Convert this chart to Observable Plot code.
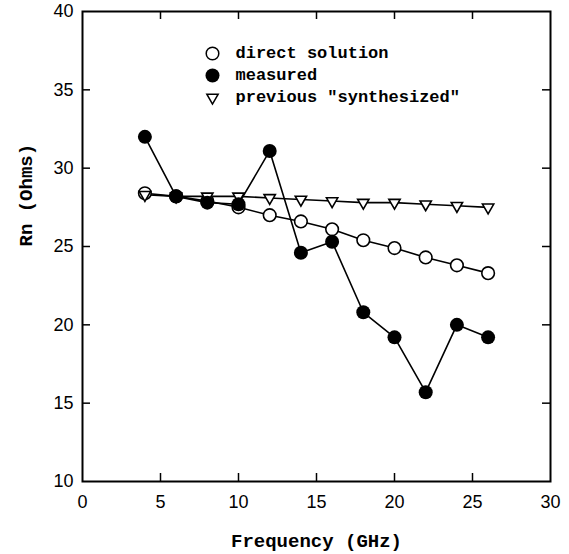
<!DOCTYPE html>
<html>
<head>
<meta charset="utf-8">
<script src="https://cdn.jsdelivr.net/npm/d3@7"></script>
<script src="https://cdn.jsdelivr.net/npm/@observablehq/plot@0.6"></script>
<style>
  html, body { margin: 0; padding: 0; background: white; }
</style>
</head>
<body>
<div id="chart"></div>
<script>
// Noise resistance Rn versus frequency
const freq = [4, 6, 8, 10, 12, 14, 16, 18, 20, 22, 24, 26];
const direct = [28.4, 28.2, 27.9, 27.5, 27.0, 26.6, 26.1, 25.4, 24.9, 24.3, 23.8, 23.3];
const measured = [32.0, 28.2, 27.8, 27.7, 31.1, 24.6, 25.3, 20.8, 19.2, 15.7, 20.0, 19.2];
const synthesized = [28.3, 28.2, 28.2, 28.2, 28.1, 28.0, 27.9, 27.8, 27.8, 27.7, 27.6, 27.5];

const xTicks = [0, 5, 10, 15, 20, 25, 30];
const yTicks = [10, 15, 20, 25, 30, 35, 40];
const xInner = [5, 10, 15, 20, 25];
const yInner = [15, 20, 25, 30, 35];
const legendLabels = ["direct solution", "measured", "previous \"synthesized\""];

const rows = vals => freq.map((f, i) => ({f, v: vals[i]}));

const W = 569, H = 554;
const mL = 82, mR = 19, mT = 11, mB = 73;
const innerW = W - mL - mR, innerH = H - mT - mB;
const tickLen = 8;
const mono = "'Liberation Mono', 'DejaVu Sans Mono', monospace";
const sans = "'Liberation Sans', Arial, sans-serif";

const legendRow = (label, i, dotOpts) => [
  Plot.dot([label], {frameAnchor: "top-left", dx: 130, dy: 42 + i * 22, stroke: "black", strokeWidth: 1.5, ...dotOpts}),
  Plot.text([label], {frameAnchor: "top-left", dx: 153, dy: 41 + i * 22, textAnchor: "start", lineAnchor: "middle",
    fontFamily: mono, fontWeight: "bold", fontSize: 17, fill: "black"})
];

const chart = Plot.plot({
  width: W,
  height: H,
  marginLeft: mL,
  marginRight: mR,
  marginTop: mT,
  marginBottom: mB,
  style: {background: "white", color: "black", fontFamily: sans, fontSize: "18px"},
  x: {domain: [0, 30]},
  y: {domain: [10, 40]},
  marks: [
    Plot.axisX(xTicks, {tickSize: 0, tickPadding: 14, fontSize: 18, fontFamily: sans, label: null}),
    Plot.axisY(yTicks, {tickSize: 0, tickPadding: 9, fontSize: 18, fontFamily: sans, label: null}),
    // inward tick marks on all four sides
    Plot.tickX(xInner, {x: d => d, insetTop: innerH - tickLen, stroke: "black", strokeWidth: 1.5}),
    Plot.tickX(xInner, {x: d => d, insetBottom: innerH - tickLen, stroke: "black", strokeWidth: 1.5}),
    Plot.tickY(yInner, {y: d => d, insetRight: innerW - tickLen, stroke: "black", strokeWidth: 1.5}),
    Plot.tickY(yInner, {y: d => d, insetLeft: innerW - tickLen, stroke: "black", strokeWidth: 1.5}),
    Plot.frame({stroke: "black", strokeWidth: 2}),
    // series
    Plot.line(rows(direct), {x: "f", y: "v", stroke: "black", strokeWidth: 1.6}),
    Plot.line(rows(synthesized), {x: "f", y: "v", stroke: "black", strokeWidth: 1.6}),
    Plot.line(rows(measured), {x: "f", y: "v", stroke: "black", strokeWidth: 1.6}),
    Plot.dot(rows(direct), {x: "f", y: "v", r: 6.3, fill: "white", stroke: "black", strokeWidth: 1.6}),
    Plot.dot(rows(synthesized), {x: "f", y: "v", symbol: "triangle", rotate: 180, r: 4.2, fill: "white", stroke: "black", strokeWidth: 1.6}),
    Plot.dot(rows(measured), {x: "f", y: "v", r: 7, fill: "black", stroke: "black", strokeWidth: 0}),
    // axis titles
    Plot.text(["Frequency (GHz)"], {frameAnchor: "bottom", dy: 59, lineAnchor: "middle",
      fontFamily: mono, fontWeight: "bold", fontSize: 19, fill: "black"}),
    Plot.text(["Rn (Ohms)"], {frameAnchor: "left", dx: -57, rotate: -90, lineAnchor: "middle",
      fontFamily: mono, fontWeight: "bold", fontSize: 19, fill: "black"}),
    // legend
    ...legendRow(legendLabels[0], 0, {r: 6.3, fill: "white"}),
    ...legendRow(legendLabels[1], 1, {r: 7, fill: "black", strokeWidth: 0}),
    ...legendRow(legendLabels[2], 2, {symbol: "triangle", rotate: 180, r: 4.2, fill: "white"})
  ]
});

document.getElementById("chart").appendChild(chart);
</script>
</body>
</html>
